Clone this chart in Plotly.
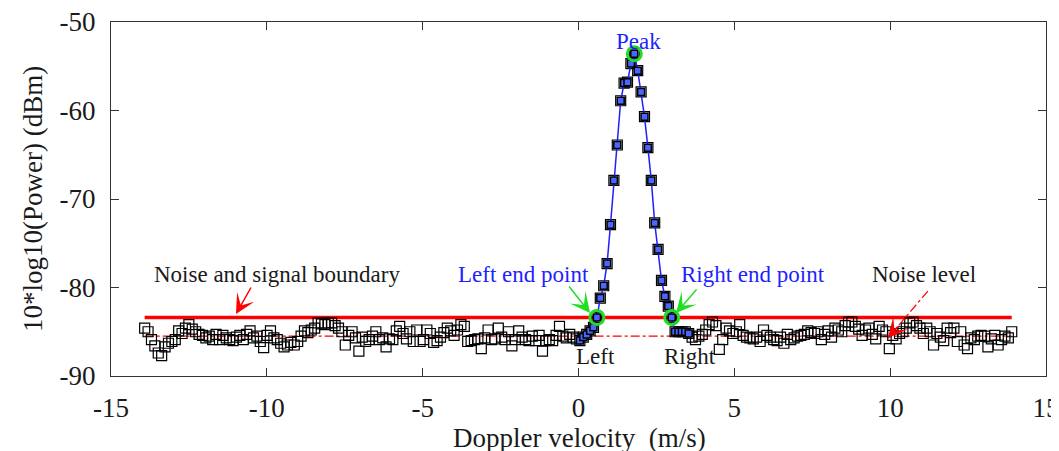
import numpy as np
import plotly.graph_objects as go

# ---------------- data ----------------
v_start = -13.92          # first Doppler bin (m/s)
v_step = 0.1091           # bin spacing (m/s)
n_bins = 256

power_db = [
    # bins 0-59
    -84.6, -85.0, -85.9, -86.6, -87.4, -87.7, -86.7, -86.3, -86.1, -85.9,
    -84.9, -85.2, -84.6, -84.2, -84.7, -85.0, -85.3, -85.4, -85.7, -85.5,
    -85.9, -85.3, -85.9, -85.4, -85.7, -85.9, -86.0, -85.6, -85.4, -85.9,
    -85.3, -84.9, -85.7, -85.5, -86.1, -86.8, -85.4, -84.9, -85.7, -85.9,
    -86.3, -86.7, -86.5, -86.2, -86.5, -86.1, -85.5, -84.9, -85.1, -84.8,
    -84.6, -84.0, -84.1, -84.2, -84.0, -84.0, -84.3, -84.6, -85.0, -86.5,
    # bins 60-127
    -85.4, -85.0, -85.7, -87.2, -85.6, -86.1, -85.9, -85.5, -85.0, -85.9,
    -85.7, -86.7, -85.8, -85.9, -84.9, -84.4, -85.2, -85.8, -85.0, -86.1,
    -84.8, -86.1, -85.9, -84.8, -85.2, -86.2, -86.0, -85.6, -85.1, -84.6,
    -84.9, -85.4, -84.8, -84.2, -84.4, -86.1, -86.0, -85.9, -85.8, -86.9,
    -85.7, -84.8, -85.9, -85.8, -84.6, -85.6, -85.9, -85.0, -86.6, -85.9,
    -84.9, -85.6, -85.9, -86.0, -85.5, -86.0, -85.4, -87.2, -86.0, -85.9,
    -86.0, -85.4, -84.4, -85.5, -85.7, -85.3, -85.6, -85.8,
    # bins 128-160 (signal)
    -86.0, -85.6, -85.3, -84.9, -84.5, -83.4, -81.2, -79.8, -77.3, -72.9,
    -67.9, -63.9, -58.9, -56.9, -56.8, -54.7, -53.6, -55.5, -57.9, -60.7,
    -64.2, -67.9, -72.7, -75.7, -79.2, -81.0, -82.1, -83.4, -85.0, -85.0,
    -85.0, -85.0, -85.2,
    # bins 161-255
    -85.6, -85.9, -85.5, -85.3, -84.8, -84.2, -83.9, -84.3, -87.0, -85.9,
    -84.6, -84.9, -85.2, -85.0, -84.2, -85.4, -85.6, -85.7, -85.8, -85.6,
    -86.1, -84.8, -85.4, -85.6, -85.9, -86.0, -85.6, -86.3, -85.3, -85.9,
    -85.7, -85.5, -85.4, -85.3, -84.9, -85.1, -85.2, -85.0, -85.9, -85.3,
    -84.9, -85.6, -84.6, -84.8, -85.0, -84.3, -83.9, -83.9, -84.4, -84.7,
    -85.4, -84.8, -84.6, -85.3, -85.8, -84.4, -84.8, -85.0, -86.9, -85.4,
    -85.8, -85.2, -85.0, -84.6, -84.0, -83.9, -84.3, -84.6, -85.2, -84.6,
    -85.0, -86.5, -85.2, -85.6, -86.0, -84.6, -85.1, -84.6, -86.1, -85.0,
    -86.5, -86.9, -85.7, -85.9, -85.5, -85.4, -85.5, -86.7, -85.8, -85.4,
    -86.5, -85.9, -85.5, -85.7, -85.0,
]

signal_first, signal_last = 128, 160      # signal segment (bins)
left_end_bin, peak_bin, right_end_bin = 133, 144, 155

boundary_db = -83.4       # noise and signal boundary
noise_level_db = -85.5    # noise level

x_ticks = [-15, -10, -5, 0, 5, 10, 15]
x_ticktext = ["-15", "-10", "-5", "0", "5", "10", "15"]
y_ticks = [-90, -80, -70, -60, -50]
y_ticktext = ["-90", "-80", "-70", "-60", "-50"]

x_title = "Doppler velocity\u00a0 (m/s)"
y_title = "10*log10(Power) (dBm)"

# ---------------- figure ----------------
velocity = np.round(v_start + v_step * np.arange(n_bins), 4)
power = np.array(power_db)

FONT = "Liberation Serif, Times New Roman, serif"
TXT = "#1a1a1a"
BLUE = "#1f1fff"
RED = "#ff0000"
GREEN = "#22dd22"

fig = go.Figure()

# noise level (dash-dot) and boundary (thick solid)
fig.add_trace(go.Scatter(x=[velocity[0], velocity[-1]], y=[noise_level_db] * 2,
                         mode="lines", line=dict(color=RED, width=1.2, dash="dashdot"),
                         hoverinfo="skip"))
fig.add_trace(go.Scatter(x=[velocity[0], velocity[-1]], y=[boundary_db] * 2,
                         mode="lines", line=dict(color=RED, width=3.5),
                         hoverinfo="skip"))

# all spectrum points (black open squares)
fig.add_trace(go.Scatter(x=velocity, y=power, mode="markers",
                         marker=dict(symbol="square-open", size=10,
                                     color="black", line=dict(width=1.2))))

# signal segment
sl = slice(signal_first, signal_last + 1)
fig.add_trace(go.Scatter(x=velocity[sl], y=power[sl], mode="lines+markers",
                         line=dict(color=BLUE, width=1.5),
                         marker=dict(symbol="square", size=7, color="#4a66ff",
                                     line=dict(color="black", width=1.5))))

# end points and peak (green circles)
mk = [left_end_bin, peak_bin, right_end_bin]
fig.add_trace(go.Scatter(x=velocity[mk], y=power[mk], mode="markers",
                         marker=dict(symbol="circle-open", size=14, color=GREEN,
                                     line=dict(width=3))))

# noise-level arrow body (dash-dot)
nl_tail = (11.21, -80.4)
nl_head = (9.93, -85.71)
fig.add_trace(go.Scatter(x=[nl_tail[0], nl_head[0]], y=[nl_tail[1], nl_head[1]],
                         mode="lines", line=dict(color=RED, width=1.2, dash="dashdot"),
                         hoverinfo="skip"))

def arrow(head, tail, color):
    fig.add_annotation(x=head[0], y=head[1], ax=tail[0], ay=tail[1],
                       xref="x", yref="y", axref="x", ayref="y", text="",
                       showarrow=True, arrowhead=3, arrowsize=2.2,
                       arrowwidth=1.5, arrowcolor=color, standoff=0)

arrow((-10.99, -83.0), (-10.48, -79.83), RED)
arrow((0.37, -82.88), (-0.34, -79.72), GREEN)
arrow((3.13, -82.88), (3.83, -80.06), GREEN)
arrow(nl_head, (nl_head[0] + 0.35, nl_head[1] + 1.45), RED)

def label(x, y, text, color, size=23):
    fig.add_annotation(x=x, y=y, xref="x", yref="y", text=text, showarrow=False,
                       font=dict(family=FONT, size=size, color=color))

label(1.91, -52.25, "Peak", BLUE)
label(-9.67, -78.5, "Noise and signal boundary", TXT)
label(-1.75, -78.5, "Left end point", BLUE)
label(5.61, -78.5, "Right end point", BLUE)
label(11.07, -78.5, "Noise level", TXT)
label(0.56, -87.74, "Left", TXT)
label(3.58, -87.74, "Right", TXT)

# axis titles
fig.add_annotation(x=0.5016, y=-0.175, xref="paper", yref="paper", text=x_title,
                   showarrow=False, xanchor="center", yanchor="middle",
                   font=dict(family=FONT, size=27, color=TXT))
fig.add_annotation(x=-0.0834, y=0.5, xref="paper", yref="paper", text=y_title,
                   showarrow=False, xanchor="center", yanchor="middle", textangle=-90,
                   font=dict(family=FONT, size=27, color=TXT))

axis_common = dict(showgrid=False, zeroline=False, showline=True, linecolor="#333333",
                   linewidth=1, ticks="inside", ticklen=8, tickcolor="#333333",
                   mirror="ticks", automargin=False, ticklabeloverflow="allow",
                   tickfont=dict(family=FONT, size=27, color=TXT))

fig.update_xaxes(range=[-15, 15], tickvals=x_ticks, ticktext=x_ticktext,
                 ticklabelstandoff=8, **axis_common)
fig.update_yaxes(range=[-90, -50], tickvals=y_ticks, ticktext=y_ticktext,
                 ticklabelstandoff=9, **axis_common)

fig.update_layout(width=1059, height=451, margin=dict(l=103, r=21, t=14, b=83),
                  paper_bgcolor="white", plot_bgcolor="white", showlegend=False)

fig.write_html("out.html")
